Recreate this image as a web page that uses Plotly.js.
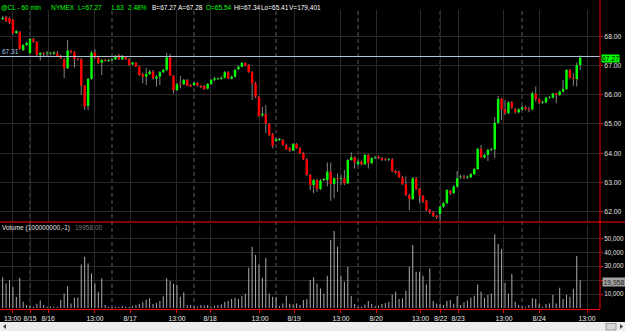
<!DOCTYPE html>
<html><head><meta charset="utf-8">
<script src="https://cdn.plot.ly/plotly-3.0.1.min.js"></script>
<style>html,body{margin:0;padding:0;background:#000;}#chart{width:625px;height:331px;}</style>
</head><body><div id="chart"></div>
<script>
// 60-min bars, index 0..169
const openP = [
68.59,68.66,68.63,68.56,68.11,68.15,67.53,67.70,67.43,67.91,
67.81,67.37,67.42,67.41,67.42,67.40,67.42,67.33,67.21,66.91,
67.51,67.45,67.22,67.21,66.31,65.62,66.54,67.44,67.27,67.10,
67.19,67.16,67.18,67.21,67.35,67.21,67.28,67.21,67.04,67.10,
66.96,66.70,66.62,66.71,66.79,66.55,66.62,66.77,66.85,67.28,
66.65,66.16,66.39,66.36,66.51,66.33,66.33,66.41,66.31,66.30,
66.21,66.37,66.51,66.53,66.54,66.58,66.77,66.55,66.62,66.87,
66.96,67.09,67.02,66.77,66.39,65.93,65.30,65.34,65.00,64.65,
64.43,64.45,64.45,64.28,64.17,64.09,64.32,64.17,64.00,63.79,
63.26,62.91,63.08,62.78,63.08,63.08,63.37,62.95,63.14,63.12,
63.14,62.97,63.77,63.86,63.62,63.71,63.62,63.94,63.66,63.83,
63.88,63.83,63.79,63.78,63.79,63.39,63.37,63.18,62.94,62.57,
62.43,63.14,62.78,62.55,62.37,62.06,61.97,61.86,61.92,62.17,
62.29,62.71,62.63,62.86,63.18,63.20,63.17,63.18,63.28,63.46,
64.15,63.85,63.94,64.11,64.13,65.04,65.86,65.50,65.37,65.74,
65.50,65.40,65.50,65.57,65.51,65.50,66.03,65.86,65.73,65.74,
65.90,65.90,66.05,65.99,66.11,66.20,66.85,66.58,66.54,67.02];
const highP = [
68.70,68.70,68.66,68.59,68.22,68.18,67.74,67.81,67.94,67.94,
67.84,67.46,67.46,67.50,67.46,67.50,67.50,67.36,67.26,67.87,
67.53,67.50,67.26,67.26,66.33,66.57,67.50,67.56,67.29,67.22,
67.22,67.22,67.26,67.36,67.40,67.36,67.31,67.26,67.12,67.12,
66.98,66.75,66.92,66.85,66.85,66.68,66.81,66.88,67.44,67.40,
66.68,66.40,66.64,66.54,66.54,66.37,66.44,66.44,66.33,66.33,
66.40,66.54,66.61,66.59,66.63,66.81,66.81,66.66,66.88,67.00,
67.12,67.12,67.05,66.81,66.44,65.96,65.59,65.65,65.03,64.69,
64.52,64.52,64.49,64.32,64.21,64.35,64.35,64.21,64.04,63.84,
63.29,63.12,63.12,63.12,63.15,63.68,63.68,63.18,63.31,63.26,
63.43,63.80,64.03,63.90,63.77,63.75,63.97,63.97,63.87,63.91,
63.92,63.87,63.84,63.84,63.84,63.43,63.41,63.22,63.20,62.61,
63.19,63.19,62.81,62.57,62.40,62.09,62.02,61.89,62.21,62.33,
62.78,62.74,62.91,63.39,63.26,63.26,63.24,63.32,63.50,64.18,
64.28,63.97,64.15,64.18,65.23,65.96,65.89,65.82,65.79,65.79,
65.55,65.55,65.62,65.62,65.59,66.10,66.28,65.89,65.80,65.94,
65.96,66.08,66.07,66.15,66.51,66.88,66.88,66.73,67.11,67.34];
const lowP = [
68.56,68.49,68.42,68.05,68.08,67.53,67.50,67.67,67.40,67.77,
67.33,67.17,67.33,67.33,67.36,67.36,67.29,67.22,66.57,66.88,
67.40,66.92,67.16,65.99,65.48,65.48,66.51,67.22,67.05,66.68,
67.12,67.12,67.16,67.19,67.19,67.19,67.19,66.98,67.02,66.95,
66.64,66.39,66.33,66.68,66.51,66.28,66.33,66.75,66.81,66.64,
66.05,66.13,66.22,66.33,66.30,66.27,66.30,66.28,66.23,66.16,
66.18,66.33,66.47,66.51,66.51,66.56,66.54,66.52,66.59,66.85,
66.93,66.97,66.75,65.82,65.89,65.24,65.24,64.68,64.59,64.17,
64.38,64.42,64.25,64.11,64.04,64.08,64.15,63.97,63.77,63.22,
62.74,62.63,62.68,62.74,63.05,62.86,62.37,62.46,62.68,62.91,
62.91,62.95,63.74,63.48,63.60,63.58,63.60,63.48,63.63,63.79,
63.80,63.73,63.73,63.73,63.36,63.29,63.15,62.91,62.54,62.06,
62.40,62.74,62.29,62.30,62.02,61.92,61.82,61.75,61.69,62.13,
62.26,62.57,62.61,62.82,63.12,63.12,63.12,63.14,63.26,63.43,
63.83,63.82,63.73,64.08,63.83,65.01,65.14,65.31,65.33,65.51,
65.36,65.36,65.46,65.46,65.40,65.46,65.76,65.68,65.68,65.70,
65.86,65.87,65.71,65.96,66.07,66.16,66.56,66.31,66.28,66.85];
const closeP = [
68.63,68.52,68.46,68.11,68.18,67.57,67.70,67.77,67.91,67.82,
67.37,67.43,67.41,67.42,67.43,67.44,67.33,67.25,66.91,67.51,
67.46,67.22,67.21,66.31,65.59,66.54,67.44,67.27,67.08,67.19,
67.16,67.19,67.21,67.33,67.21,67.33,67.21,67.02,67.10,66.96,
66.68,66.62,66.71,66.79,66.56,66.62,66.77,66.85,67.28,66.65,
66.16,66.36,66.36,66.51,66.31,66.28,66.41,66.31,66.26,66.19,
66.37,66.51,66.56,66.56,66.58,66.77,66.56,66.62,66.85,66.96,
67.09,66.99,66.77,66.39,65.93,65.27,65.35,65.02,64.62,64.25,
64.48,64.49,64.28,64.14,64.09,64.32,64.17,64.00,63.79,63.26,
62.91,63.08,62.78,63.06,63.12,63.37,62.95,63.14,63.11,63.15,
62.97,63.77,63.86,63.68,63.71,63.62,63.94,63.66,63.83,63.86,
63.83,63.77,63.77,63.80,63.39,63.33,63.18,62.94,62.57,62.43,
63.14,62.78,62.55,62.34,62.06,61.97,61.86,61.81,62.17,62.29,
62.74,62.63,62.86,63.14,63.20,63.16,63.20,63.28,63.46,64.15,
63.85,63.94,64.11,64.13,65.04,65.86,65.50,65.37,65.74,65.56,
65.40,65.50,65.57,65.51,65.48,66.05,65.86,65.73,65.76,65.90,
65.92,66.04,65.99,66.11,66.20,66.85,66.58,66.54,67.02,67.27];
const volume = [
22000,17600,20000,15000,7800,21700,4400,2000,1300,900,
3000,5400,2000,900,1100,900,900,5600,10400,15500,
3200,7300,7300,31300,36800,32000,24800,17600,11600,21300,
2000,900,500,800,800,1600,800,600,1300,2000,
2800,4000,5900,6900,2800,3500,4900,8300,21300,19300,
17400,16500,8100,11200,2000,2000,1100,800,2000,1800,
2000,800,1600,2000,2500,4400,4900,6400,7300,6400,
8500,10200,28900,44000,38000,31300,21700,36100,10400,8100,
7800,1300,3200,8800,3000,2500,3200,2000,5600,6400,
20000,22000,17600,14000,10400,23200,48800,55300,44000,23200,
18900,29600,8500,2800,600,800,2500,4900,2800,1300,
1600,2800,3500,4400,9700,11600,6400,6900,12400,29600,
45200,26000,26000,23200,16900,28400,4900,3200,3000,2000,
4900,5600,3000,8500,2000,4000,5400,7300,8800,16900,
11600,7300,9300,10400,52900,46000,42400,18100,10400,24400,
4400,2000,1000,800,2000,6900,6400,3200,800,2800,
3200,9300,3200,14500,6400,9300,8100,13600,37300,19958];

const tickPos  = [2.9,8,13.3,27,37.3,51,60.7,75.3,85.3,99,109.3,122.3,128.2,133.3,146.7,157,171];
const tickText = ['13:00','8/15','8/16','13:00','8/17','13:00','8/18','13:00','8/19','13:00','8/20','13:00','8/22','8/23','13:00','8/24','13:00'];
const sessionStarts = [8,32,56,80,104,128,152];
const priceTicks = [62,63,64,65,66,67,68];
const volTicks = [10000,20000,30000,40000,50000];
const volTickText = ['10,000','','30,000','40,000','50,000']; // 20,000 is hidden behind the last-volume marker
const refLevel = 67.31;
const lastPrice = 67.27;
const lastVolume = 19958;
const header = [
  {t:'@CL - 60 min', px:0, c:'#00ff00'},
  {t:'NYMEX', px:50, c:'#00ff00'},
  {t:'L=67.27', px:77, c:'#00ff00'},
  {t:'1.63', px:110, c:'#00ff00'},
  {t:'2.48%', px:127, c:'#00ff00'},
  {t:'B=67.27', px:151, c:'#ffffff'},
  {t:'A=67.28', px:177, c:'#ffffff'},
  {t:'O=65.54', px:205, c:'#00ff00'},
  {t:'Hi=67.34', px:233, c:'#ffffff'},
  {t:'Lo=65.41', px:260, c:'#ffffff'},
  {t:'V=179,401', px:288, c:'#ffffff'}
];

const idx = openP.map((_, i) => i);
const bodyBase = openP.map((o, i) => Math.min(o, closeP[i]));
const bodyH = openP.map((o, i) => Math.max(Math.abs(closeP[i] - o), 0.025));
const bodyCol = openP.map((o, i) => closeP[i] >= o ? '#00ff00' : '#ff0000');
const wickH = highP.map((h, i) => h - lowP[i]);

const W = 600, TOP = 10, BOT = 309, PH = BOT - TOP;
const px = v => v / W;
const py = v => (BOT - v) / PH;
const FONT = 'Liberation Sans, Arial, sans-serif';
const HF = 6.5, AF = 6.8;

const traces = [
  {type:'bar', x:idx, y:wickH, base:lowP, width:0.28, marker:{color:'#8a8a8a', line:{width:0}}, xaxis:'x', yaxis:'y', hoverinfo:'skip'},
  {type:'bar', x:idx, y:bodyH, base:bodyBase, width:0.72, marker:{color:bodyCol, line:{width:0}}, xaxis:'x', yaxis:'y', hoverinfo:'skip'},
  {type:'bar', x:idx, y:volume, width:0.3, marker:{color:'#a8a8a8', line:{width:0}}, xaxis:'x', yaxis:'y2', hoverinfo:'skip'}
];

const shapes = [];
sessionStarts.forEach(s => shapes.push({type:'line', xref:'x', yref:'paper', x0:s, x1:s, y0:0, y1:1, layer:'below', line:{color:'#5c5c5c', width:1, dash:'4px,3px'}}));
shapes.push({type:'line', xref:'paper', yref:'y', x0:0, x1:1, y0:refLevel, y1:refLevel, line:{color:'#b4c8dc', width:1}});
shapes.push({type:'line', xref:'paper', yref:'paper', x0:1, x1:1, y0:0, y1:py(0), line:{color:'#ff0000', width:1}});
shapes.push({type:'line', xref:'paper', yref:'paper', x0:0, x1:px(625), y0:py(222), y1:py(222), line:{color:'#ff0000', width:1}});
shapes.push({type:'rect', xref:'paper', yref:'paper', x0:0, x1:px(625), y0:py(331), y1:py(322), fillcolor:'#ececec', line:{width:0}});
shapes.push({type:'rect', xref:'paper', yref:'paper', x0:px(606), x1:px(616), y0:py(330), y1:py(323.5), fillcolor:'#d6d6d6', line:{color:'#9a9a9a', width:1}});
shapes.push({type:'path', xref:'paper', yref:'paper', path:`M ${px(3)} ${py(326.5)} L ${px(6)} ${py(324)} L ${px(6)} ${py(329)} Z`, fillcolor:'#404040', line:{width:0}});
shapes.push({type:'path', xref:'paper', yref:'paper', path:`M ${px(623)} ${py(326.5)} L ${px(620)} ${py(324)} L ${px(620)} ${py(329)} Z`, fillcolor:'#404040', line:{width:0}});

const annotations = header.map(h => ({xref:'paper', yref:'paper', x:px(h.px), y:py(7), xanchor:'left', yanchor:'middle', text:h.t, showarrow:false, borderpad:0, font:{family:FONT, size:HF, color:h.c}}));
annotations.push({xref:'paper', yref:'y', x:px(1), y:refLevel, xanchor:'left', yanchor:'bottom', text:refLevel.toFixed(2), showarrow:false, borderpad:0, font:{family:FONT, size:HF, color:'#a8c4e0'}});
annotations.push({xref:'paper', yref:'paper', x:px(601), y:py(58.6), xanchor:'left', yanchor:'middle', text:lastPrice.toFixed(2), showarrow:false, bgcolor:'#00ff00', borderpad:0, font:{family:FONT, size:AF, color:'#000000'}});
annotations.push({xref:'paper', yref:'paper', x:px(601.5), y:py(281.5), xanchor:'left', yanchor:'middle', text:lastVolume.toLocaleString('en-US'), showarrow:false, bgcolor:'#a4a4a4', borderpad:0.5, font:{family:FONT, size:AF, color:'#1a1a1a'}});
annotations.push({xref:'paper', yref:'paper', x:px(1), y:py(227.7), xanchor:'left', yanchor:'middle', text:'Volume (100000000,-1)', showarrow:false, borderpad:0, font:{family:FONT, size:HF, color:'#e0e0e0'}});
annotations.push({xref:'paper', yref:'paper', x:px(74), y:py(227.7), xanchor:'left', yanchor:'middle', text:lastVolume.toFixed(2), showarrow:false, borderpad:0, font:{family:FONT, size:HF, color:'#7a7a7a'}});

const layout = {
  width:625, height:331,
  margin:{l:0, r:25, t:TOP, b:331-BOT, pad:0},
  paper_bgcolor:'#000000', plot_bgcolor:'#000000',
  barmode:'overlay', showlegend:false, hovermode:false,
  font:{family:FONT, size:AF, color:'#dcdcdc'},
  xaxis:{range:[-0.778, 174.8], anchor:'y2', tickmode:'array', tickvals:tickPos, ticktext:tickText, tickangle:0,
         ticks:'outside', ticklen:3, tickcolor:'#ff0000', showline:true, linecolor:'#ff0000', linewidth:1,
         showgrid:true, gridcolor:'#2a2a2a', gridwidth:1, zeroline:false, tickfont:{family:FONT, size:AF, color:'#e8e8e8'}},
  yaxis:{domain:[py(222), 1], range:[61.647, 68.9], side:'right', anchor:'x', tickmode:'array', tickvals:priceTicks,
         ticktext:priceTicks.map(v => v.toFixed(2)), ticks:'outside', ticklen:2, tickcolor:'#ff0000',
         showgrid:true, gridcolor:'#2a2a2a', zeroline:false, showline:false, tickfont:{family:FONT, size:AF, color:'#e0e0e0'}},
  yaxis2:{domain:[0, py(225)], range:[-790, 59640], side:'right', anchor:'x', tickmode:'array', tickvals:volTicks,
         ticktext:volTickText, ticks:'outside', ticklen:2, tickcolor:'#ff0000',
         showgrid:true, gridcolor:'#2a2a2a', zeroline:false, showline:false, tickfont:{family:FONT, size:6.3, color:'#e0e0e0'}},
  shapes:shapes, annotations:annotations
};

Plotly.newPlot('chart', traces, layout, {staticPlot:true, displayModeBar:false});
</script>
</body></html>
